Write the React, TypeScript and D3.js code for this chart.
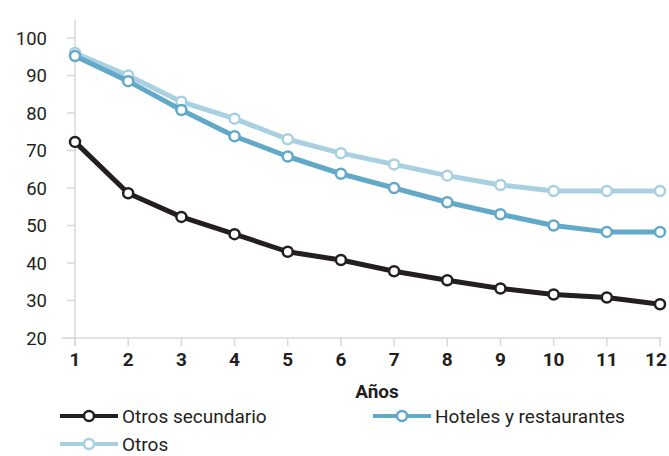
import React from "react";
import * as d3 from "d3";

const years = [1, 2, 3, 4, 5, 6, 7, 8, 9, 10, 11, 12];
const otrosSecundario = [72.3, 58.6, 52.3, 47.7, 43.0, 40.8, 37.8, 35.4, 33.2, 31.6, 30.8, 29.0];
const hoteles = [95.2, 88.5, 80.8, 73.8, 68.4, 63.8, 60.0, 56.2, 53.0, 50.0, 48.3, 48.3];
const otros = [96.0, 90.0, 83.0, 78.5, 73.0, 69.3, 66.3, 63.3, 60.8, 59.2, 59.2, 59.2];
const yTicks = [20, 30, 40, 50, 60, 70, 80, 90, 100];
const xLabel = "Años";

const seriesList = [
  { name: "Otros secundario", values: otrosSecundario, color: "#231f20" },
  { name: "Hoteles y restaurantes", values: hoteles, color: "#62a8c8" },
  { name: "Otros", values: otros, color: "#a8d0e1" },
];

const FONT = "Roboto, sans-serif";

export default function App() {
  const W = 669, H = 456;
  const x = d3.scaleLinear().domain([1, 12]).range([75, 660]);
  const y = d3.scaleLinear().domain([20, 100]).range([338, 38]);
  const line = d3.line<number>().x((_, i) => x(years[i])).y((v) => y(v));
  const axisColor = "#d9d9d9";
  const drawOrder = [2, 1, 0];
  const legend = [
    { s: seriesList[0], lx: 60, ly: 416 },
    { s: seriesList[1], lx: 373, ly: 416 },
    { s: seriesList[2], lx: 60, ly: 444 },
  ];
  return (
    <svg width={W} height={H} style={{ position: "absolute", left: 0, top: 0, background: "#fff" }}>
      <line x1={75} x2={75} y1={20} y2={346} stroke={axisColor} strokeWidth={1.5} />
      <line x1={62} x2={662} y1={338} y2={338} stroke={axisColor} strokeWidth={1.5} />
      {yTicks.map((t) => (
        <g key={t}>
          <line x1={67} x2={75} y1={y(t)} y2={y(t)} stroke={axisColor} strokeWidth={1.5} />
          <text x={47} y={y(t)} dy="0.36em" textAnchor="end" fontFamily={FONT} fontSize={18.5} fill="#231f20">
            {t}
          </text>
        </g>
      ))}
      {years.map((yr) => (
        <g key={yr}>
          <line x1={x(yr)} x2={x(yr)} y1={338} y2={346} stroke={axisColor} strokeWidth={1.5} />
          <text x={Math.min(x(yr), 656)} y={359} dy="0.36em" textAnchor="middle" fontFamily={FONT} fontWeight="bold" fontSize={19} fill="#231f20">
            {yr}
          </text>
        </g>
      ))}
      <text x={377} y={391} dy="0.36em" textAnchor="middle" fontFamily={FONT} fontWeight="bold" fontSize={19} fill="#231f20">
        {xLabel}
      </text>
      {drawOrder.map((k) => {
        const s = seriesList[k];
        return (
          <g key={s.name}>
            <path d={line(s.values) || ""} fill="none" stroke={s.color} strokeWidth={5} strokeLinejoin="round" />
            {s.values.map((v, i) => (
              <circle key={i} cx={x(years[i])} cy={y(v)} r={5} fill="#fff" stroke={s.color} strokeWidth={2.5} />
            ))}
          </g>
        );
      })}
      {legend.map(({ s, lx, ly }) => (
        <g key={s.name}>
          <line x1={lx} x2={lx + 58} y1={ly} y2={ly} stroke={s.color} strokeWidth={4} />
          <circle cx={lx + 29} cy={ly} r={5} fill="#fff" stroke={s.color} strokeWidth={2.5} />
          <text x={lx + 62} y={ly} dy="0.36em" fontFamily={FONT} fontSize={19} fill="#231f20">
            {s.name}
          </text>
        </g>
      ))}
    </svg>
  );
}
